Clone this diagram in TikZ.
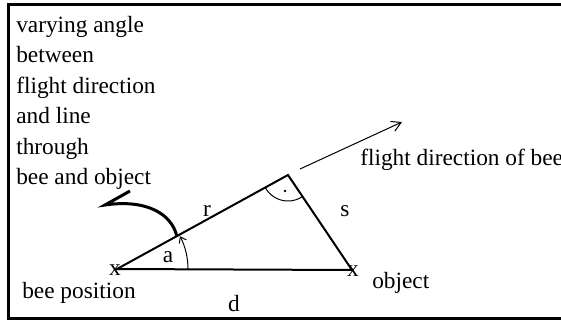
\documentclass[tikz,border=0pt]{standalone}
\usepackage{fontspec}
\setmainfont{Liberation Serif}
\usetikzlibrary{arrows.meta,calc}

\tikzset{
  lbl/.style={inner sep=0pt, font=\fontsize{17.5}{22.9}\selectfont},
  side/.style={line width=1.5pt},
  thin line/.style={line width=0.75pt},
}

\begin{document}
\begin{tikzpicture}[x=0.75pt,y=0.75pt,yscale=-1,xscale=1]
\useasboundingbox (0,0) rectangle (561,322);

% frame, open to the right
\draw [line width=2.25pt, line join=miter] (561,4) -- (8,4) -- (8,318) -- (561,318) ;

% corners of the triangle
\coordinate (bee) at (117,269);
\coordinate (obj) at (352,270);
\coordinate (top) at (288,175);

% Triangle
\draw [side, line join=miter] (bee) -- (top) -- (obj) -- cycle ;

% right angle at top
\draw [thin line] ($(top)+(151.2:26)$) arc [start angle=151.2, end angle=56, radius=26] ;
\fill (285,191) circle [radius=1.3] ;

% angle a
\draw [thin line, -{Straight Barb[length=4pt,width=6pt]}] ($(bee)+(0:71)$) arc [start angle=0, end angle=-27.5, radius=71] ;

% flight direction
\coordinate (fdA) at (300,169);
\coordinate (fdB) at (402,122);
\draw [thin line, -{Straight Barb[length=7pt,width=8pt]}] (fdA) -- (fdB) ;

% varying angle
\draw [line width=2.25pt, line join=miter] (177,237) .. controls (172,213) and (145,199) .. (105,205) -- (130,191) ;

% Text Node
\node [lbl] (beex) at (115,270) {x};
\node [lbl] (objx) at (353,271) {x};
\node [lbl] (lblr) at (207,211) {r};
\node [lbl] (lbls) at (345,211) {s};
\node [lbl] (lbla) at (168,257) {a};
\node [lbl] (lbld) at (234,304) {d};
\node [lbl, anchor=base west] (beepos) at (22,298) {bee position};
\node [lbl, anchor=base west] (objtxt) at (372,288) {object};
\node [lbl, anchor=base west] (fdtxt) at (360,165) {flight direction of bee};
\foreach \txt [count=\i from 0] in {varying angle, between, flight direction, and line, through, bee and object}
  \node [lbl, anchor=base west] (note\i) at (16,32+30.5*\i) {\txt};

\end{tikzpicture}
\end{document}
